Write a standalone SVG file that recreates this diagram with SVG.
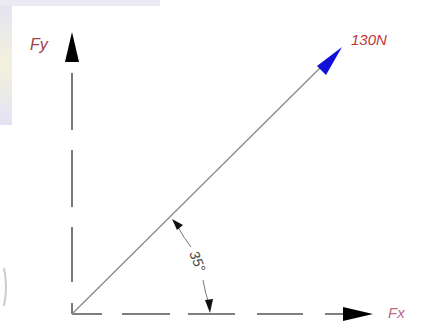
<svg xmlns="http://www.w3.org/2000/svg" width="422" height="324" viewBox="0 0 422 324">
<style>
.axis{stroke:#555;stroke-width:1.6;fill:none}
.force{stroke:#8a8a8a;stroke-width:1.3;fill:none}
.dim{stroke:#777;stroke-width:1;fill:none}
.lbl{font-family:"Liberation Sans",Arial,sans-serif;font-style:italic}
</style>
<defs>
<linearGradient id="bg" x1="0" y1="0" x2="0" y2="1">
<stop offset="0" stop-color="#e4e2f4"/>
<stop offset="0.5" stop-color="#f3f1dc"/>
<stop offset="1" stop-color="#e4e2f4"/>
</linearGradient>
</defs>
<rect width="422" height="324" fill="#fff"/>
<rect x="0" y="0" width="12" height="125" fill="url(#bg)"/>
<rect x="0" y="0" width="160" height="6" fill="#ecebf3"/>
<path d="M4 268 Q8 286 4 306" stroke="#ccc" stroke-width="2" fill="none"/>
<g id="connectors">
<path class="axis" d="M72 314 V303 M72 282 V227 M72 207 V150 M72 130 V73"/>
<path class="axis" d="M72 314 H102 M122 314 H170 M188 314 H235 M257 314 H303 M325 314 H343"/>
<line class="force" x1="72" y1="314" x2="325" y2="63"/>
<path class="dim" d="M178 227 A138 138 0 0 0 191 247 M203 280 A138 138 0 0 0 209 304"/>
</g>
<g id="fy-axis">
<polygon points="72,32 65,62 79,62" fill="#000"/>
<text class="lbl" x="30" y="50" font-size="16" fill="#9e3e50">Fy</text>
</g>
<g id="fx-axis">
<polygon points="373,314 343,307 343,321" fill="#000"/>
<text class="lbl" x="388" y="318" font-size="15" fill="#c06a84">Fx</text>
</g>
<g id="force-130N">
<polygon points="342,47 317,66 326,75" fill="#1010d8"/>
<text class="lbl" x="351" y="45" font-size="15" fill="#c03838">130N</text>
</g>
<g id="angle">
<polygon points="172,219 183,225 177,230" fill="#111"/>
<polygon points="210,313 205,300 213,299" fill="#111"/>
<text class="lbl" x="0" y="0" font-size="14" fill="#444" text-anchor="middle" transform="translate(193,263) rotate(68)">35°</text>
</g>
</svg>
